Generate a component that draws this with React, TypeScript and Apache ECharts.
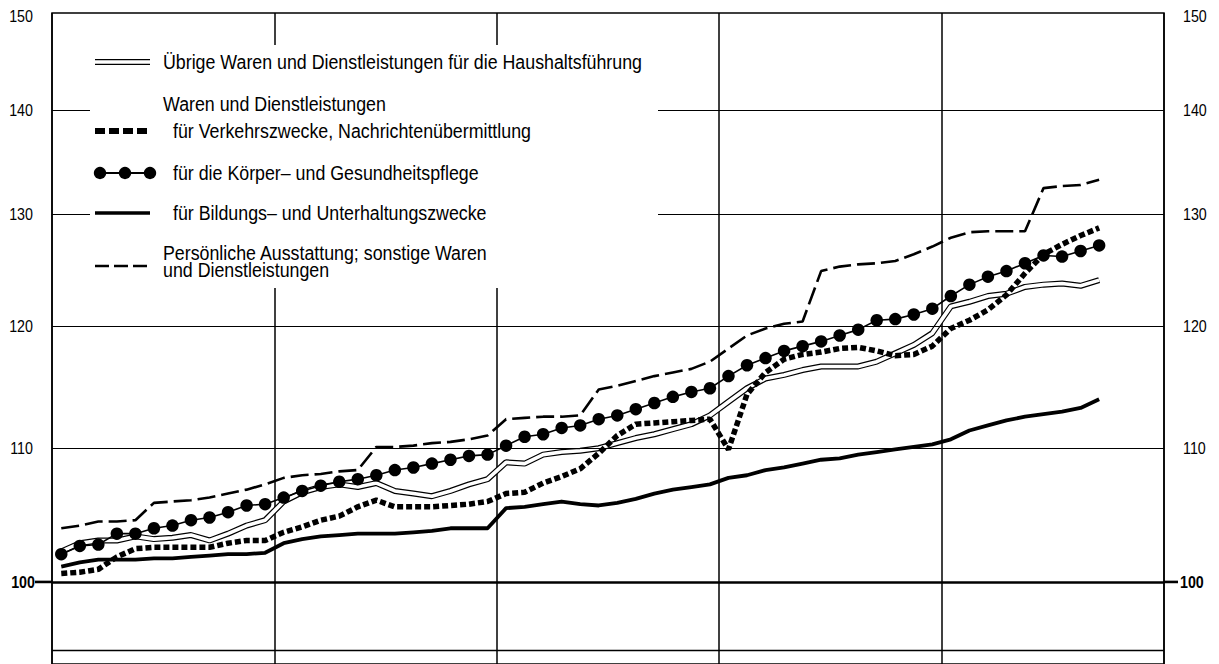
import React, { useEffect, useRef } from "react";
import * as echarts from "echarts";

// ---- data ----
const years = ["1", "2", "3", "4", "5"];
const months = ["1", "2", "3", "4", "5", "6", "7", "8", "9", "10", "11", "12"];
const categories = years.flatMap((y) => months.map((m) => `${y}/${m}`));

// Übrige Waren und Dienstleistungen für die Haushaltsführung
const uebrige = [
  102.2, 102.8, 103.0, 103.0, 103.3, 103.1, 103.2, 103.4, 103.0, 103.5, 104.1, 104.5,
  105.9, 106.6, 107.0, 107.2, 107.0, 107.3, 106.7, 106.5, 106.3, 106.7, 107.2, 107.6,
  108.9, 108.8, 109.5, 109.7, 109.8, 110.0, 110.4, 110.8, 111.1, 111.5, 111.9, 112.6,
  113.7, 114.8, 115.6, 115.9, 116.3, 116.6, 116.6, 116.6, 117.0, 117.7, 118.4, 119.4,
  121.7, 122.1, 122.6, 122.8, 123.4, 123.6, 123.7, 123.5, 124.0,
];
// für Verkehrszwecke, Nachrichtenübermittlung
const verkehr = [
  100.6, 100.7, 100.9, 101.8, 102.4, 102.5, 102.5, 102.5, 102.5, 102.8, 103.0, 103.0,
  103.6, 104.0, 104.5, 104.8, 105.5, 106.0, 105.5, 105.5, 105.5, 105.6, 105.7, 105.9,
  106.5, 106.6, 107.3, 107.8, 108.4, 109.6, 111.0, 111.9, 112.0, 112.1, 112.2, 112.3,
  109.9, 114.3, 116.1, 117.2, 117.6, 117.8, 118.1, 118.2, 117.9, 117.5, 117.6, 118.3,
  119.8, 120.5, 121.4, 122.7, 124.6, 126.3, 127.2, 128.0, 128.7,
];
// für die Körper- und Gesundheitspflege
const koerper = [
  102.0, 102.6, 102.7, 103.5, 103.5, 103.9, 104.1, 104.5, 104.7, 105.1, 105.6, 105.7,
  106.2, 106.7, 107.1, 107.4, 107.6, 107.9, 108.3, 108.5, 108.8, 109.1, 109.4, 109.5,
  110.2, 110.9, 111.1, 111.6, 111.8, 112.3, 112.6, 113.1, 113.6, 114.1, 114.5, 114.8,
  115.8, 116.7, 117.3, 117.9, 118.3, 118.7, 119.2, 119.7, 120.5, 120.6, 121.0, 121.5,
  122.6, 123.6, 124.3, 124.8, 125.5, 126.2, 126.1, 126.6, 127.1,
];
// für Bildungs- und Unterhaltungszwecke
const bildung = [
  101.1, 101.4, 101.6, 101.6, 101.6, 101.7, 101.7, 101.8, 101.9, 102.0, 102.0, 102.1,
  102.8, 103.1, 103.3, 103.4, 103.5, 103.5, 103.5, 103.6, 103.7, 103.9, 103.9, 103.9,
  105.4, 105.5, 105.7, 105.9, 105.7, 105.6, 105.8, 106.1, 106.5, 106.8, 107.0, 107.2,
  107.7, 107.9, 108.3, 108.5, 108.8, 109.1, 109.2, 109.5, 109.7, 109.9, 110.1, 110.3,
  110.7, 111.4, 111.8, 112.2, 112.5, 112.7, 112.9, 113.2, 113.9,
];
// Persönliche Ausstattung; sonstige Waren und Dienstleistungen
const persoenlich = [
  103.9, 104.1, 104.4, 104.4, 104.5, 105.8, 105.9, 106.0, 106.2, 106.5, 106.8, 107.2,
  107.7, 107.9, 108.0, 108.2, 108.3, 110.1, 110.1, 110.2, 110.4, 110.5, 110.7, 111.0,
  112.3, 112.4, 112.5, 112.5, 112.6, 114.7, 115.0, 115.4, 115.8, 116.1, 116.4, 117.0,
  118.1, 119.2, 119.8, 120.2, 120.4, 124.8, 125.2, 125.4, 125.5, 125.7, 126.3, 127.0,
  127.8, 128.3, 128.4, 128.4, 128.4, 132.4, 132.6, 132.7, 133.2,
];

const yTicks = [100, 110, 120, 130, 140, 150];
const gridValues = [110, 120, 130, 140];
const baseValue = 100;
const frameBottomValue = 95.25;
const yMin = 94.32;
const yMax = 150;

const legendHeader = "Waren und Dienstleistungen";
const legendLabels = [
  "Übrige Waren und Dienstleistungen für die Haushaltsführung",
  "für Verkehrszwecke, Nachrichtenübermittlung",
  "für die Körper– und Gesundheitspflege",
  "für Bildungs– und Unterhaltungszwecke",
  "Persönliche Ausstattung; sonstige Waren\nund Dienstleistungen",
];

const FONT = "'Liberation Sans', Arial, sans-serif";

export default function App() {
  const ref = useRef<HTMLDivElement>(null);

  useEffect(() => {
    if (!ref.current) return;
    const chart = echarts.init(ref.current, undefined, { renderer: "svg" });

    const option: any = {
      animation: false,
      backgroundColor: "#fff",
      grid: {
        left: 52,
        right: 55,
        top: 13,
        bottom: 0,
        show: true,
        borderColor: "#000",
        borderWidth: 1.5,
        backgroundColor: "transparent",
      },
      xAxis: {
        type: "category",
        data: categories,
        boundaryGap: true,
        axisLine: { show: false },
        axisTick: { show: false },
        axisLabel: { show: false },
        splitLine: {
          show: true,
          interval: (i: number) => i % 12 === 0,
          lineStyle: { color: "#000", width: 1.5 },
        },
      },
      yAxis: {
        type: "log",
        logBase: 10,
        min: yMin,
        max: yMax,
        axisLine: { show: false },
        axisTick: { show: false },
        axisLabel: { show: false },
        splitLine: { show: false },
      },
      series: [
        {
          type: "line",
          name: "grid",
          data: [],
          z: 1,
          silent: true,
          markLine: {
            silent: true,
            symbol: "none",
            label: { show: false },
            data: [
              ...gridValues.map((v) => ({ yAxis: v, lineStyle: { color: "#000", width: 1, type: "solid" } })),
              { yAxis: baseValue, lineStyle: { color: "#000", width: 2.6, type: "solid" } },
              { yAxis: frameBottomValue, lineStyle: { color: "#000", width: 1.3, type: "solid" } },
            ],
          },
        },
        {
          type: "line",
          name: "uebrige-outer",
          data: uebrige,
          z: 3,
          symbol: "none",
          lineStyle: { color: "#000", width: 6 },
        },
        {
          type: "line",
          name: "uebrige-inner",
          data: uebrige,
          z: 4,
          symbol: "none",
          lineStyle: { color: "#fff", width: 3.6 },
        },
        {
          type: "line",
          name: "bildung",
          data: bildung,
          z: 5,
          symbol: "none",
          lineStyle: { color: "#000", width: 3.8, join: "round" },
        },
        {
          type: "line",
          name: "persoenlich",
          data: persoenlich,
          z: 5,
          symbol: "none",
          lineStyle: { color: "#000", width: 2.6, type: [18, 6] },
        },
        {
          type: "line",
          name: "verkehr",
          data: verkehr,
          z: 6,
          symbol: "none",
          lineStyle: { color: "#000", width: 5.5, type: [6, 3], cap: "butt" },
        },
        {
          type: "line",
          name: "koerper",
          data: koerper,
          z: 7,
          symbol: "circle",
          symbolSize: 12.5,
          showSymbol: true,
          showAllSymbol: true,
          itemStyle: { color: "#000", opacity: 1 },
          lineStyle: { color: "#000", width: 1.6 },
        },
      ],
    };
    chart.setOption(option);

    const yPix = (v: number) => chart.convertToPixel({ yAxisIndex: 0 }, v) as number;
    const left = 52;
    const right = 1219 - 55;
    const gfx: any[] = [];
    const txt = (
      x: number,
      y: number,
      text: string,
      align: string,
      size: number,
      sx: number,
      weight = "normal",
      vAlign = "middle"
    ) => ({
      type: "text",
      x,
      y,
      scaleX: sx,
      z: 102,
      style: {
        text,
        fill: "#000",
        fontFamily: FONT,
        fontSize: size,
        fontWeight: weight,
        lineHeight: 17,
        align,
        textAlign: align,
        verticalAlign: vAlign,
        textVerticalAlign: vAlign,
      },
    });

    yTicks.forEach((v) => {
      let y = yPix(v);
      if (v === yMax) y += 3;
      const bold = v === baseValue ? "bold" : "normal";
      gfx.push(txt(v === baseValue ? 35 : 33, y, String(v), "right", 17, 0.84, bold));
      gfx.push(txt(v === baseValue ? 1180 : 1183, y, String(v), "left", 17, 0.84, bold));
    });
    const yb = yPix(baseValue);
    gfx.push({ type: "line", z: 102, shape: { x1: 35, y1: yb, x2: left, y2: yb }, style: { stroke: "#000", lineWidth: 2.6 } });
    gfx.push({ type: "line", z: 102, shape: { x1: right, y1: yb, x2: 1178, y2: yb }, style: { stroke: "#000", lineWidth: 2.6 } });

    // legend box
    gfx.push({ type: "rect", z: 100, shape: { x: 90, y: 45, width: 568, height: 243 }, style: { fill: "#fff" } });
    const sx1 = 95;
    const sx2 = 150;
    // double line
    gfx.push({ type: "line", z: 101, shape: { x1: sx1, y1: 62, x2: sx2, y2: 62 }, style: { stroke: "#000", lineWidth: 6 } });
    gfx.push({ type: "line", z: 101, shape: { x1: sx1 - 1, y1: 62, x2: sx2 + 1, y2: 62 }, style: { stroke: "#fff", lineWidth: 3.6 } });
    // heavy dash
    gfx.push({ type: "line", z: 101, shape: { x1: sx1, y1: 131, x2: sx2, y2: 131 }, style: { stroke: "#000", lineWidth: 6, lineDash: [10, 4] } });
    // circles
    gfx.push({ type: "line", z: 101, shape: { x1: 100, y1: 173, x2: 150, y2: 173 }, style: { stroke: "#000", lineWidth: 2 } });
    [100, 125, 150].forEach((cx) =>
      gfx.push({ type: "circle", z: 101, shape: { cx, cy: 173, r: 6.2 }, style: { fill: "#000" } })
    );
    // solid
    gfx.push({ type: "line", z: 101, shape: { x1: sx1, y1: 213, x2: sx2, y2: 213 }, style: { stroke: "#000", lineWidth: 3.6 } });
    // long dash
    gfx.push({ type: "line", z: 101, shape: { x1: sx1, y1: 266, x2: sx2, y2: 266 }, style: { stroke: "#000", lineWidth: 2.6, lineDash: [14, 5] } });

    const LS = 20;
    const LX = 0.89;
    gfx.push(txt(163, 62, legendLabels[0], "left", LS, LX));
    gfx.push(txt(163, 104, legendHeader, "left", LS, LX));
    gfx.push(txt(173, 131, legendLabels[1], "left", LS, LX));
    gfx.push(txt(173, 173, legendLabels[2], "left", LS, LX));
    gfx.push(txt(173, 213, legendLabels[3], "left", LS, LX));
    gfx.push(txt(163, 262, legendLabels[4], "left", LS, LX));

    chart.setOption({ graphic: { elements: gfx } });

    return () => chart.dispose();
  }, []);

  return (
    <div
      ref={ref}
      style={{ position: "fixed", left: 0, top: 0, width: 1219, height: 664, background: "#fff" }}
    />
  );
}
